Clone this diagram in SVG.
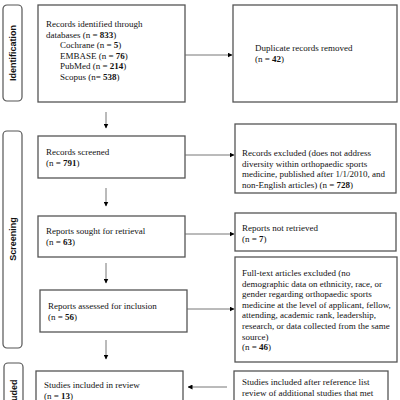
<svg xmlns="http://www.w3.org/2000/svg" width="400" height="400" viewBox="0 0 400 400">
<style>
.box{fill:#fff;stroke:#555;stroke-width:1.3}
.lab{fill:#fff;stroke:#555;stroke-width:1.2}
.t{font-family:"Liberation Serif","Times New Roman",serif;font-size:9px;fill:#111}
.lt{font-family:"Liberation Sans",Arial,sans-serif;font-size:9px;font-weight:bold;fill:#111}
.b{font-weight:bold}
.c{stroke:#666;stroke-width:0.9;fill:none}
</style>
<defs>
<marker id="ah" viewBox="0 0 10 10" refX="9" refY="5" markerWidth="5" markerHeight="5" orient="auto" markerUnits="userSpaceOnUse">
<path d="M0,0 L10,5 L0,10 z" fill="#000"/>
</marker>
</defs>
<rect width="400" height="400" fill="#fff"/>
<g id="label-identification"><rect class="lab" x="3" y="5" width="19" height="96" rx="4"/><text class="lt" transform="translate(15.5,53) rotate(-90)" text-anchor="middle">Identification</text></g>
<g id="label-screening"><rect class="lab" x="3" y="131" width="19" height="217" rx="4"/><text class="lt" transform="translate(15.5,239) rotate(-90)" text-anchor="middle">Screening</text></g>
<g id="label-included"><rect class="lab" x="4" y="363" width="19" height="50" rx="4"/><text class="lt" transform="translate(16.5,398) rotate(-90)" text-anchor="middle">Included</text></g>
<g id="identified"><rect class="box" x="38" y="5" width="147" height="97"/>
<text class="t" x="46" y="27">Records identified through</text>
<text class="t" x="46" y="37.5">databases (n = <tspan class="b">833</tspan>)</text>
<text class="t" x="60" y="48">Cochrane (n = <tspan class="b">5</tspan>)</text>
<text class="t" x="60" y="58.5">EMBASE (n = <tspan class="b">76</tspan>)</text>
<text class="t" x="60" y="69">PubMed (n = <tspan class="b">214</tspan>)</text>
<text class="t" x="60" y="79.5">Scopus (n= <tspan class="b">538</tspan>)</text>
</g>
<g id="duplicates"><rect class="box" x="233" y="5" width="164" height="97"/>
<text class="t" x="255" y="51">Duplicate records removed</text>
<text class="t" x="255" y="61.5">(n = <tspan class="b">42</tspan>)</text>
</g>
<g id="screened"><rect class="box" x="38" y="136" width="147" height="42"/>
<text class="t" x="46" y="155">Records screened</text>
<text class="t" x="46" y="165.5">(n = <tspan class="b">791</tspan>)</text>
</g>
<g id="excluded"><rect class="box" x="235" y="124" width="161" height="69"/>
<text class="t" x="242" y="156">Records excluded (does not address</text>
<text class="t" x="242" y="166.5">diversity within orthopaedic sports</text>
<text class="t" x="242" y="177">medicine, published after 1/1/2010, and</text>
<text class="t" x="242" y="187.5">non-English articles) (n = <tspan class="b">728</tspan>)</text>
</g>
<g id="sought"><rect class="box" x="38" y="216" width="147" height="41"/>
<text class="t" x="46" y="234">Reports sought for retrieval</text>
<text class="t" x="46" y="244.5">(n = <tspan class="b">63</tspan>)</text>
</g>
<g id="not-retrieved"><rect class="box" x="235" y="213" width="161" height="38"/>
<text class="t" x="242" y="231">Reports not retrieved</text>
<text class="t" x="242" y="241.5">(n = <tspan class="b">7</tspan>)</text>
</g>
<g id="assessed"><rect class="box" x="40" y="290" width="147" height="42"/>
<text class="t" x="48" y="309">Reports assessed for inclusion</text>
<text class="t" x="48" y="319.5">(n = <tspan class="b">56</tspan>)</text>
</g>
<g id="fulltext-excluded"><rect class="box" x="235" y="257" width="162" height="105"/>
<text class="t" x="242" y="276">Full-text articles excluded (no</text>
<text class="t" x="242" y="286.6">demographic data on ethnicity, race, or</text>
<text class="t" x="242" y="297.2">gender regarding orthopaedic sports</text>
<text class="t" x="242" y="307.8">medicine at the level of applicant, fellow,</text>
<text class="t" x="242" y="318.4">attending, academic rank, leadership,</text>
<text class="t" x="242" y="329">research, or data collected from the same</text>
<text class="t" x="242" y="339.6">source)</text>
<text class="t" x="242" y="350.2">(n = <tspan class="b">46</tspan>)</text>
</g>
<g id="included"><rect class="box" x="36" y="371" width="147" height="40"/>
<text class="t" x="44" y="388">Studies included in review</text>
<text class="t" x="44" y="398.5">(n = <tspan class="b">13</tspan>)</text>
</g>
<g id="reference-list"><rect class="box" x="234" y="371" width="154" height="40"/>
<text class="t" x="242" y="385">Studies included after reference list</text>
<text class="t" x="242" y="395.5">review of additional studies that met</text>
<text class="t" x="242" y="406">criteria</text>
</g>
<g id="connectors">
<line class="c" x1="185" y1="55" x2="232" y2="55" marker-end="url(#ah)"/>
<line class="c" x1="106" y1="112" x2="106" y2="128" marker-end="url(#ah)"/>
<line class="c" x1="185" y1="155" x2="234" y2="155" marker-end="url(#ah)"/>
<line class="c" x1="106" y1="188" x2="106" y2="206" marker-end="url(#ah)"/>
<line class="c" x1="185" y1="234" x2="234" y2="234" marker-end="url(#ah)"/>
<line class="c" x1="106" y1="263" x2="106" y2="283" marker-end="url(#ah)"/>
<line class="c" x1="187" y1="309" x2="234" y2="309" marker-end="url(#ah)"/>
<line class="c" x1="106" y1="340" x2="106" y2="359" marker-end="url(#ah)"/>
<line class="c" x1="227" y1="387" x2="188" y2="387" marker-end="url(#ah)"/>
</g>
</svg>
